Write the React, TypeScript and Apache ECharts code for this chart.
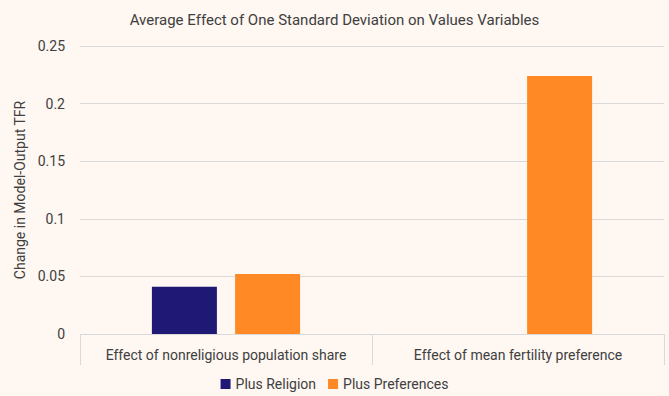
import React, { useEffect, useRef } from "react";
import * as echarts from "echarts";

const categories = [
  "Effect of nonreligious population share",
  "Effect of mean fertility preference",
];
const plusReligion: (number | null)[] = [0.041, null];
const plusPreferences: number[] = [0.052, 0.224];
const seriesNames = ["Plus Religion", "Plus Preferences"];

const FONT = "'Roboto', sans-serif";
const TEXT = "#404040";

export default function App() {
  const ref = useRef<HTMLDivElement>(null);
  useEffect(() => {
    const chart = echarts.init(ref.current!, null, { renderer: "svg" });
    chart.setOption({
      animation: false,
      backgroundColor: "#FEF7F2",
      textStyle: { fontFamily: FONT },
      title: {
        text: "Average Effect of One Standard Deviation on Values Variables",
        left: "center",
        top: 7,
        textStyle: { fontFamily: FONT, fontSize: 15, fontWeight: "normal", color: TEXT },
      },
      legend: {
        bottom: 0,
        left: "center",
        itemWidth: 10,
        itemHeight: 10,
        itemGap: 12,
        icon: "rect",
        textStyle: { fontFamily: FONT, fontSize: 14, color: TEXT },
        data: seriesNames,
      },
      grid: { left: 80, right: 5, top: 46, bottom: 62, containLabel: false },
      xAxis: {
        type: "category",
        data: categories,
        axisLine: { lineStyle: { color: "#D9D9D9" } },
        axisTick: { show: true, length: 31, lineStyle: { color: "#D9D9D9" } },
        axisLabel: { fontFamily: FONT, fontSize: 14, color: TEXT, margin: 14, interval: 0 },
      },
      yAxis: {
        type: "value",
        min: 0,
        max: 0.25,
        interval: 0.05,
        name: "Change in Model-Output TFR",
        nameLocation: "middle",
        nameGap: 48,
        nameTextStyle: { fontFamily: FONT, fontSize: 14, color: TEXT },
        axisLine: { show: false },
        axisTick: { show: false },
        axisLabel: {
          fontFamily: FONT,
          fontSize: 14,
          color: TEXT,
          margin: 15,
          formatter: (v: number) => String(parseFloat(v.toFixed(2))),
        },
        splitLine: { lineStyle: { color: "#D9D9D9" } },
      },
      series: [
        {
          name: seriesNames[0],
          type: "bar",
          data: plusReligion,
          barWidth: 65,
          barGap: "28%",
          itemStyle: { color: "#1F1975" },
        },
        {
          name: seriesNames[1],
          type: "bar",
          data: plusPreferences,
          barWidth: 65,
          barGap: "28%",
          itemStyle: { color: "#FF8A25" },
        },
      ],
    });
    return () => chart.dispose();
  }, []);
  return <div ref={ref} style={{ width: 669, height: 396, position: "absolute", left: 0, top: 0 }} />;
}
